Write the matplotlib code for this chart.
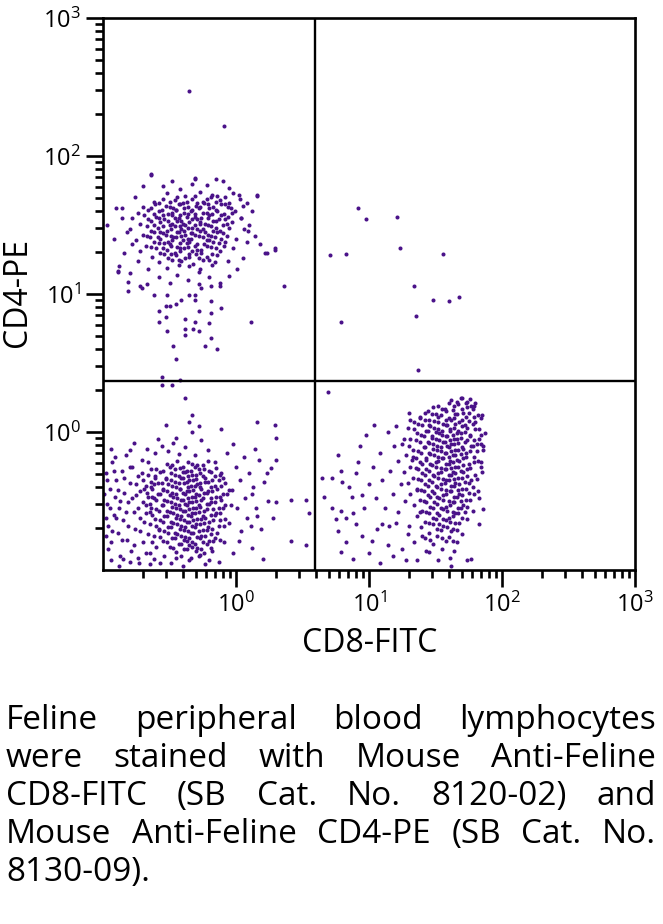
import numpy as np
import matplotlib
matplotlib.use("Agg")
import matplotlib.pyplot as plt
from matplotlib.ticker import FixedLocator, LogLocator, NullFormatter

plt.rcParams['font.family'] = ['Open Sans', 'DejaVu Sans']
plt.rcParams['mathtext.default'] = 'regular'

# quadrant gates (CD8-FITC, CD4-PE)
gate_x = 10 ** 0.594
gate_y = 10 ** 0.37

# events, as (log10 CD8-FITC, log10 CD4-PE)
# CD4+ CD8- (upper left)
ul_events = [
    (-0.52, 1.73), (-0.38, 1.71), (-0.27, 1.74), (-0.18, 1.72), (-0.08, 1.70), (-0.02, 1.73),
    (-0.62, 1.67), (-0.55, 1.69), (-0.46, 1.68), (-0.40, 1.66), (-0.33, 1.69), (-0.25, 1.67),
    (-0.19, 1.70), (-0.12, 1.68), (-0.05, 1.66), (0.03, 1.69),
    (-0.70, 1.63), (-0.61, 1.65), (-0.53, 1.64), (-0.47, 1.62), (-0.42, 1.65), (-0.36, 1.63),
    (-0.30, 1.64), (-0.24, 1.66), (-0.17, 1.63), (-0.11, 1.65), (-0.04, 1.62), (0.05, 1.64),
    (-0.74, 1.59), (-0.66, 1.61), (-0.58, 1.60), (-0.51, 1.58), (-0.45, 1.61), (-0.39, 1.59),
    (-0.34, 1.60), (-0.28, 1.62), (-0.22, 1.59), (-0.15, 1.61), (-0.09, 1.58), (-0.01, 1.60),
    (-0.78, 1.55), (-0.69, 1.57), (-0.60, 1.56), (-0.54, 1.54), (-0.48, 1.57), (-0.43, 1.55),
    (-0.37, 1.56), (-0.31, 1.58), (-0.26, 1.55), (-0.20, 1.57), (-0.13, 1.54), (-0.06, 1.56), (0.04, 1.55),
    (-0.72, 1.51), (-0.64, 1.53), (-0.57, 1.52), (-0.50, 1.50), (-0.44, 1.53), (-0.40, 1.51),
    (-0.35, 1.52), (-0.29, 1.54), (-0.23, 1.51), (-0.17, 1.53), (-0.10, 1.50), (-0.03, 1.52),
    (-0.80, 1.47), (-0.67, 1.49), (-0.59, 1.48), (-0.52, 1.46), (-0.46, 1.49), (-0.41, 1.47),
    (-0.36, 1.48), (-0.31, 1.50), (-0.25, 1.47), (-0.19, 1.49), (-0.12, 1.46), (-0.05, 1.48), (0.06, 1.47),
    (-0.70, 1.43), (-0.62, 1.45), (-0.55, 1.44), (-0.49, 1.42), (-0.43, 1.45), (-0.38, 1.43),
    (-0.33, 1.44), (-0.27, 1.46), (-0.21, 1.43), (-0.14, 1.45), (-0.07, 1.42),
    (-0.75, 1.39), (-0.65, 1.41), (-0.57, 1.40), (-0.51, 1.38), (-0.45, 1.41), (-0.40, 1.39),
    (-0.34, 1.40), (-0.28, 1.42), (-0.22, 1.39), (-0.16, 1.41), (-0.08, 1.38), (0.00, 1.40),
    (-0.68, 1.35), (-0.58, 1.37), (-0.50, 1.36), (-0.44, 1.34), (-0.37, 1.37), (-0.31, 1.35),
    (-0.24, 1.36), (-0.17, 1.38), (-0.09, 1.35),
    (-0.72, 1.31), (-0.60, 1.33), (-0.52, 1.32), (-0.46, 1.30), (-0.39, 1.33), (-0.33, 1.31),
    (-0.26, 1.32), (-0.19, 1.34), (-0.12, 1.31), (-0.02, 1.33),
    (-0.63, 1.27), (-0.54, 1.29), (-0.45, 1.28), (-0.38, 1.26), (-0.30, 1.29), (-0.22, 1.27), (-0.14, 1.28),
    (-0.58, 1.23), (-0.48, 1.25), (-0.41, 1.24), (-0.32, 1.22), (-0.25, 1.25), (-0.16, 1.23), (-0.06, 1.24),
    (-0.52, 1.19), (-0.43, 1.21), (-0.35, 1.20), (-0.27, 1.18), (-0.18, 1.21),
    # core, second pass
    (-0.44, 1.70), (-0.31, 1.71), (-0.22, 1.69), (-0.14, 1.71),
    (-0.58, 1.66), (-0.50, 1.67), (-0.43, 1.65), (-0.37, 1.67), (-0.29, 1.66), (-0.21, 1.65), (-0.15, 1.67), (-0.08, 1.65),
    (-0.64, 1.62), (-0.56, 1.61), (-0.50, 1.63), (-0.45, 1.61), (-0.39, 1.62), (-0.33, 1.61), (-0.27, 1.63),
    (-0.20, 1.62), (-0.14, 1.60), (-0.06, 1.63),
    (-0.62, 1.58), (-0.55, 1.57), (-0.48, 1.59), (-0.42, 1.57), (-0.36, 1.58), (-0.31, 1.56), (-0.25, 1.59),
    (-0.18, 1.58), (-0.11, 1.57), (-0.03, 1.59),
    (-0.66, 1.54), (-0.58, 1.55), (-0.51, 1.53), (-0.46, 1.55), (-0.41, 1.53), (-0.33, 1.54), (-0.27, 1.52),
    (-0.21, 1.55), (-0.15, 1.53), (-0.08, 1.54),
    (-0.62, 1.50), (-0.55, 1.49), (-0.48, 1.51), (-0.42, 1.49), (-0.38, 1.50), (-0.33, 1.48), (-0.27, 1.51),
    (-0.21, 1.50), (-0.15, 1.48), (-0.07, 1.51),
    (-0.64, 1.46), (-0.57, 1.45), (-0.49, 1.47), (-0.44, 1.45), (-0.39, 1.46), (-0.34, 1.44), (-0.29, 1.47),
    (-0.23, 1.45), (-0.17, 1.46), (-0.10, 1.44),
    (-0.67, 1.42), (-0.59, 1.41), (-0.53, 1.43), (-0.47, 1.41), (-0.41, 1.42), (-0.36, 1.40), (-0.31, 1.43),
    (-0.25, 1.41), (-0.19, 1.42), (-0.11, 1.40),
    (-0.62, 1.38), (-0.54, 1.37), (-0.48, 1.39), (-0.42, 1.37), (-0.35, 1.38), (-0.29, 1.36), (-0.20, 1.39), (-0.13, 1.37),
    (-0.64, 1.34), (-0.55, 1.33), (-0.49, 1.35), (-0.42, 1.33), (-0.36, 1.34), (-0.29, 1.32), (-0.22, 1.35), (-0.15, 1.33),
    (-0.57, 1.30), (-0.49, 1.29), (-0.42, 1.31), (-0.35, 1.29), (-0.26, 1.30), (-0.18, 1.29),
    (-0.51, 1.26), (-0.43, 1.25), (-0.35, 1.27), (-0.28, 1.26), (-0.20, 1.25),
    # halo
    (-0.90, 1.62), (-0.86, 1.55), (-0.84, 1.30), (-0.88, 1.20), (-0.92, 1.40), (-0.80, 1.15),
    (-0.76, 1.70), (-0.70, 1.78), (-0.64, 1.86), (-0.55, 1.78), (-0.48, 1.82), (-0.42, 1.76),
    (-0.33, 1.80), (-0.31, 1.83), (-0.22, 1.79), (-0.15, 1.83), (-0.10, 1.82), (-0.05, 1.77),
    (0.02, 1.72), (0.08, 1.66), (0.12, 1.60), (0.16, 1.71), (0.10, 1.50), (0.14, 1.42),
    (0.18, 1.36), (0.22, 1.30), (0.29, 1.32), (0.08, 1.38), (0.05, 1.26), (0.01, 1.18),
    (-0.05, 1.13), (-0.12, 1.08), (-0.20, 1.12), (-0.28, 1.16), (-0.36, 1.10), (-0.44, 1.14),
    (-0.50, 1.08), (-0.58, 1.12), (-0.66, 1.18), (-0.74, 1.24), (-0.82, 1.45), (-0.78, 1.36),
    (-0.72, 1.06), (0.04, 1.55), (0.09, 1.46), (-0.89, 1.16), (-0.97, 1.50),
    # tail and outliers
    (-0.89, 1.17), (-0.81, 1.09), (-0.81, 1.02), (-0.71, 1.04), (-0.67, 1.07), (-0.62, 0.99),
    (-0.58, 0.88), (-0.58, 0.80), (-0.53, 0.83), (-0.53, 0.91), (-0.50, 0.91), (-0.52, 0.99),
    (-0.45, 0.93), (-0.41, 0.96), (-0.52, 0.73), (-0.47, 0.62), (-0.45, 0.53), (-0.56, 0.40),
    (-0.42, 0.38), (-0.38, 0.82), (-0.38, 0.75), (-0.32, 0.75), (-0.38, 0.70), (-0.31, 0.80),
    (-0.28, 0.88), (-0.28, 0.73), (-0.20, 0.79), (-0.19, 0.86), (-0.19, 0.68), (-0.23, 0.62),
    (-0.14, 0.60), (-0.11, 0.90), (-0.19, 0.95), (-0.35, 0.99), (-0.31, 0.99), (-0.31, 0.96),
    (0.11, 0.80), (0.36, 1.06), (-0.12, 1.06), (-0.19, 1.06), (-0.26, 1.04), (-0.28, 1.07),
    (-0.35, 2.47), (-0.09, 2.22), (-0.64, 1.87), (-0.31, 1.84), (0.29, 1.33), (0.23, 1.30),
    (0.16, 1.72), (-0.86, 1.62),
]

# double negative (lower left)
ll_events = [
    (-0.52, -0.23), (-0.44, -0.21), (-0.36, -0.22), (-0.29, -0.24), (-0.21, -0.21),
    (-0.60, -0.27), (-0.50, -0.25), (-0.42, -0.26), (-0.37, -0.28), (-0.31, -0.25), (-0.24, -0.27), (-0.15, -0.26),
    (-0.66, -0.31), (-0.57, -0.29), (-0.49, -0.30), (-0.43, -0.32), (-0.38, -0.29), (-0.33, -0.31),
    (-0.27, -0.30), (-0.20, -0.28), (-0.12, -0.31),
    (-0.70, -0.35), (-0.61, -0.33), (-0.53, -0.34), (-0.46, -0.36), (-0.40, -0.33), (-0.35, -0.35),
    (-0.30, -0.34), (-0.25, -0.32), (-0.18, -0.35), (-0.10, -0.33),
    (-0.68, -0.39), (-0.59, -0.37), (-0.51, -0.38), (-0.45, -0.40), (-0.39, -0.37), (-0.34, -0.39),
    (-0.29, -0.38), (-0.23, -0.36), (-0.16, -0.39), (-0.08, -0.37),
    (-0.72, -0.43), (-0.63, -0.41), (-0.55, -0.42), (-0.48, -0.44), (-0.42, -0.41), (-0.37, -0.43),
    (-0.32, -0.42), (-0.27, -0.40), (-0.21, -0.43), (-0.14, -0.41), (-0.05, -0.42),
    (-0.66, -0.47), (-0.57, -0.45), (-0.50, -0.46), (-0.44, -0.48), (-0.38, -0.45), (-0.33, -0.47),
    (-0.28, -0.46), (-0.22, -0.44), (-0.15, -0.47), (-0.07, -0.45),
    (-0.70, -0.51), (-0.60, -0.49), (-0.52, -0.50), (-0.46, -0.52), (-0.40, -0.49), (-0.35, -0.51),
    (-0.30, -0.50), (-0.25, -0.48), (-0.19, -0.51), (-0.11, -0.49),
    (-0.64, -0.55), (-0.55, -0.53), (-0.48, -0.54), (-0.42, -0.56), (-0.37, -0.53), (-0.32, -0.55),
    (-0.27, -0.54), (-0.20, -0.52), (-0.13, -0.55), (-0.04, -0.53),
    (-0.68, -0.59), (-0.58, -0.57), (-0.50, -0.58), (-0.44, -0.60), (-0.38, -0.57), (-0.33, -0.59),
    (-0.28, -0.58), (-0.22, -0.56), (-0.15, -0.59),
    (-0.61, -0.63), (-0.52, -0.61), (-0.45, -0.62), (-0.39, -0.64), (-0.34, -0.61), (-0.29, -0.63),
    (-0.23, -0.62), (-0.16, -0.60), (-0.08, -0.63),
    (-0.65, -0.67), (-0.55, -0.65), (-0.47, -0.66), (-0.41, -0.68), (-0.35, -0.65), (-0.30, -0.67),
    (-0.24, -0.66), (-0.17, -0.64),
    (-0.58, -0.71), (-0.49, -0.69), (-0.42, -0.70), (-0.36, -0.72), (-0.31, -0.69), (-0.25, -0.71),
    (-0.18, -0.70), (-0.09, -0.68),
    (-0.62, -0.75), (-0.51, -0.73), (-0.44, -0.74), (-0.38, -0.76), (-0.32, -0.73), (-0.26, -0.75), (-0.19, -0.74),
    (-0.55, -0.79), (-0.46, -0.77), (-0.39, -0.78), (-0.33, -0.80), (-0.27, -0.77), (-0.20, -0.79), (-0.12, -0.78),
    (-0.50, -0.83), (-0.41, -0.81), (-0.35, -0.82), (-0.29, -0.84), (-0.22, -0.81),
    (-0.45, -0.87), (-0.37, -0.85), (-0.30, -0.86), (-0.24, -0.88),
    # core, second pass
    (-0.48, -0.24), (-0.40, -0.25), (-0.33, -0.23), (-0.25, -0.24),
    (-0.55, -0.28), (-0.46, -0.27), (-0.40, -0.29), (-0.34, -0.28), (-0.28, -0.27), (-0.19, -0.29),
    (-0.61, -0.32), (-0.53, -0.33), (-0.46, -0.31), (-0.41, -0.33), (-0.36, -0.32), (-0.30, -0.31), (-0.23, -0.33), (-0.16, -0.32),
    (-0.64, -0.36), (-0.56, -0.37), (-0.49, -0.35), (-0.43, -0.37), (-0.37, -0.36), (-0.32, -0.35),
    (-0.27, -0.37), (-0.21, -0.36), (-0.13, -0.35),
    (-0.64, -0.40), (-0.55, -0.41), (-0.48, -0.39), (-0.42, -0.41), (-0.36, -0.40), (-0.31, -0.39),
    (-0.26, -0.41), (-0.19, -0.40), (-0.11, -0.39),
    (-0.67, -0.44), (-0.59, -0.45), (-0.52, -0.43), (-0.45, -0.45), (-0.40, -0.44), (-0.35, -0.43),
    (-0.30, -0.45), (-0.24, -0.44), (-0.18, -0.43), (-0.10, -0.45),
    (-0.62, -0.48), (-0.54, -0.49), (-0.47, -0.47), (-0.41, -0.49), (-0.36, -0.48), (-0.31, -0.47),
    (-0.26, -0.49), (-0.19, -0.48), (-0.12, -0.47),
    (-0.65, -0.52), (-0.56, -0.53), (-0.49, -0.51), (-0.43, -0.53), (-0.38, -0.52), (-0.33, -0.51),
    (-0.28, -0.53), (-0.22, -0.52), (-0.16, -0.51), (-0.08, -0.53),
    (-0.60, -0.56), (-0.52, -0.57), (-0.45, -0.55), (-0.40, -0.57), (-0.35, -0.56), (-0.30, -0.55),
    (-0.24, -0.57), (-0.17, -0.56), (-0.10, -0.55),
    (-0.63, -0.60), (-0.54, -0.61), (-0.47, -0.59), (-0.41, -0.61), (-0.36, -0.60), (-0.31, -0.59),
    (-0.25, -0.61), (-0.19, -0.60), (-0.12, -0.59),
    (-0.57, -0.64), (-0.49, -0.65), (-0.42, -0.63), (-0.37, -0.65), (-0.32, -0.64), (-0.26, -0.63),
    (-0.20, -0.65), (-0.12, -0.64),
    (-0.60, -0.68), (-0.51, -0.69), (-0.44, -0.67), (-0.38, -0.69), (-0.33, -0.68), (-0.27, -0.67),
    (-0.21, -0.69), (-0.13, -0.68),
    (-0.54, -0.72), (-0.46, -0.73), (-0.39, -0.71), (-0.34, -0.73), (-0.28, -0.72), (-0.22, -0.71), (-0.14, -0.73),
    (-0.57, -0.76), (-0.48, -0.77), (-0.41, -0.75), (-0.35, -0.77), (-0.29, -0.76), (-0.23, -0.75), (-0.16, -0.77),
    (-0.52, -0.80), (-0.43, -0.81), (-0.37, -0.79), (-0.31, -0.81), (-0.25, -0.80), (-0.17, -0.79),
    (-0.47, -0.84), (-0.39, -0.85), (-0.33, -0.83), (-0.26, -0.85), (-0.19, -0.84),
    (-0.41, -0.90), (-0.34, -0.91), (-0.27, -0.89), (-0.20, -0.93),
    # spread
    (-0.98, -0.30), (-0.97, -0.52), (-0.96, -0.68), (-0.95, -0.41), (-0.94, -0.80), (-0.93, -0.22),
    (-0.92, -0.60), (-0.91, -0.47), (-0.90, -0.35), (-0.89, -0.73), (-0.88, -0.55), (-0.87, -0.90),
    (-0.86, -0.28), (-0.85, -0.64), (-0.84, -0.44), (-0.83, -0.17), (-0.82, -0.78), (-0.81, -0.51),
    (-0.80, -0.37), (-0.79, -0.86), (-0.78, -0.25), (-0.77, -0.58), (-0.76, -0.70), (-0.75, -0.46),
    (-0.74, -0.32), (-0.73, -0.95), (-0.72, -0.62), (-0.71, -0.20), (-0.70, -0.80), (-0.69, -0.41),
    (-0.68, -0.53), (-0.67, -0.12), (-0.66, -0.74), (-0.65, -0.88), (-0.64, -0.27), (-0.63, -0.47),
    (-0.62, -0.92), (-0.61, -0.15), (-0.60, -0.83), (-0.59, -0.05), (-0.57, -0.95), (-0.56, -0.10),
    (-0.54, -0.90), (-0.53, 0.05), (-0.51, -0.14), (-0.49, -0.95), (-0.47, -0.08), (-0.45, -0.91),
    (-0.43, -0.16), (-0.40, -0.97), (-0.38, -0.11), (-0.35, -0.93), (-0.33, 0.00), (-0.31, -0.17),
    (-0.28, -0.90), (-0.26, -0.06), (-0.23, -0.96), (-0.21, -0.13), (-0.18, -0.86), (-0.16, -0.22),
    (-0.13, -0.94), (-0.11, -0.30), (-0.09, -0.80), (-0.07, -0.15), (-0.05, -0.66), (-0.03, -0.42),
    (-0.02, -0.88), (0.00, -0.25), (0.01, -0.55), (0.03, -0.35), (0.04, -0.72), (0.06, -0.18),
    (0.07, -0.48), (0.08, -0.62), (0.10, -0.30), (0.12, -0.84), (0.13, -0.40), (0.15, -0.55),
    (0.17, -0.20), (0.19, -0.70), (0.21, -0.36), (0.24, -0.50), (0.26, -0.26), (0.28, -0.62),
    (0.14, -0.12), (0.20, -0.92), (-0.94, -0.12), (-0.88, -0.97), (-0.58, -0.70), (-0.77, -0.08),
    (-0.99, -0.45), (-0.98, -0.62), (-0.97, -0.35), (-0.96, -0.85), (-0.95, -0.55), (-0.93, -0.72),
    (-0.92, -0.28), (-0.90, -0.62), (-0.89, -0.42), (-0.87, -0.50), (-0.86, -0.78), (-0.84, -0.33),
    (-0.83, -0.58), (-0.81, -0.68), (-0.80, -0.25), (-0.78, -0.48), (-0.77, -0.82), (-0.75, -0.38),
    (-0.74, -0.55), (-0.72, -0.72), (-0.71, -0.30), (-0.69, -0.65), (-0.68, -0.88), (-0.66, -0.22),
    (-0.65, -0.58), (-0.63, -0.80), (-0.62, -0.38), (-0.98, -0.75), (-0.91, -0.18), (-0.85, -0.92),
    # outliers
    (-0.56, 0.34), (-0.48, 0.34), (-0.38, 0.25), (-0.33, 0.12), (-0.35, 0.07), (-0.28, 0.04),
    (-0.11, 0.02), (0.16, 0.07), (0.29, 0.05), (0.30, -0.04), (0.30, -0.20), (0.30, -0.51),
    (0.41, -0.49), (0.53, -0.49), (0.55, -0.59), (0.41, -0.79), (0.53, -0.82), (-0.45, -0.04),
    (-0.80, -0.13), (-0.02, -0.09), (0.23, -0.30), (0.16, -0.61), (0.12, -0.45), (0.11, -0.68),
    (0.02, -0.79), (-0.94, -0.93), (-0.80, -0.94), (-0.65, -0.96), (-0.74, -0.91),
]

# CD8+ CD4- (lower right)
lr_events = [
    (1.62, 0.23), (1.70, 0.25), (1.76, 0.24),
    (1.52, 0.19), (1.60, 0.21), (1.67, 0.20), (1.74, 0.18), (1.80, 0.21),
    (1.44, 0.15), (1.55, 0.17), (1.63, 0.16), (1.71, 0.14), (1.78, 0.17),
    (1.38, 0.11), (1.47, 0.13), (1.54, 0.12), (1.60, 0.10), (1.66, 0.13), (1.73, 0.11), (1.82, 0.12),
    (1.34, 0.07), (1.42, 0.09), (1.49, 0.08), (1.56, 0.06), (1.62, 0.09), (1.68, 0.07), (1.75, 0.08), (1.84, 0.10),
    (1.29, 0.03), (1.40, 0.05), (1.46, 0.04), (1.52, 0.02), (1.58, 0.05), (1.64, 0.03), (1.70, 0.04), (1.78, 0.06),
    (1.36, -0.01), (1.44, 0.01), (1.50, 0.00), (1.55, -0.02), (1.61, 0.01), (1.66, -0.01), (1.72, 0.00),
    (1.80, 0.02), (1.87, -0.01),
    (1.31, -0.05), (1.41, -0.03), (1.47, -0.04), (1.53, -0.06), (1.59, -0.03), (1.64, -0.05), (1.69, -0.04),
    (1.76, -0.02), (1.83, -0.05),
    (1.25, -0.09), (1.38, -0.07), (1.45, -0.08), (1.51, -0.10), (1.57, -0.07), (1.62, -0.09), (1.67, -0.08),
    (1.74, -0.06), (1.81, -0.09),
    (1.33, -0.13), (1.42, -0.11), (1.48, -0.12), (1.54, -0.14), (1.60, -0.11), (1.65, -0.13), (1.71, -0.12),
    (1.78, -0.10), (1.86, -0.13),
    (1.28, -0.17), (1.39, -0.15), (1.46, -0.16), (1.52, -0.18), (1.58, -0.15), (1.63, -0.17), (1.69, -0.16), (1.76, -0.14),
    (1.22, -0.21), (1.35, -0.19), (1.43, -0.20), (1.50, -0.22), (1.56, -0.19), (1.61, -0.21), (1.66, -0.20),
    (1.73, -0.18), (1.82, -0.21),
    (1.31, -0.25), (1.40, -0.23), (1.47, -0.24), (1.54, -0.26), (1.60, -0.23), (1.65, -0.25), (1.71, -0.24), (1.79, -0.22),
    (1.26, -0.29), (1.37, -0.27), (1.45, -0.28), (1.52, -0.30), (1.58, -0.27), (1.63, -0.29), (1.69, -0.28),
    (1.76, -0.26), (1.85, -0.29),
    (1.33, -0.33), (1.42, -0.31), (1.49, -0.32), (1.56, -0.34), (1.62, -0.31), (1.67, -0.33), (1.74, -0.32),
    (1.29, -0.37), (1.39, -0.35), (1.47, -0.36), (1.54, -0.38), (1.60, -0.35), (1.65, -0.37), (1.72, -0.36), (1.81, -0.34),
    (1.36, -0.41), (1.44, -0.39), (1.51, -0.40), (1.58, -0.42), (1.64, -0.39), (1.70, -0.41), (1.78, -0.40),
    (1.31, -0.45), (1.41, -0.43), (1.49, -0.44), (1.56, -0.46), (1.62, -0.43), (1.68, -0.45), (1.75, -0.44),
    (1.38, -0.49), (1.46, -0.47), (1.53, -0.48), (1.60, -0.50), (1.66, -0.47), (1.73, -0.49), (1.83, -0.48),
    (1.34, -0.53), (1.43, -0.51), (1.51, -0.52), (1.58, -0.54), (1.64, -0.51), (1.71, -0.53),
    (1.40, -0.57), (1.48, -0.55), (1.56, -0.56), (1.63, -0.58), (1.69, -0.55), (1.78, -0.57),
    (1.36, -0.61), (1.45, -0.59), (1.53, -0.60), (1.60, -0.62), (1.67, -0.59),
    (1.42, -0.65), (1.50, -0.63), (1.58, -0.64), (1.65, -0.66), (1.74, -0.63),
    (1.39, -0.69), (1.48, -0.67), (1.56, -0.68), (1.63, -0.70),
    (1.45, -0.73), (1.54, -0.71), (1.62, -0.72), (1.70, -0.74),
    (1.42, -0.77), (1.51, -0.75), (1.60, -0.76),
    (1.48, -0.81), (1.58, -0.79), (1.66, -0.80),
    (1.45, -0.87), (1.55, -0.85), (1.64, -0.86),
    (1.52, -0.93), (1.61, -0.91),
    # core, second pass
    (1.66, 0.22), (1.73, 0.21),
    (1.48, 0.18), (1.57, 0.17), (1.64, 0.19), (1.70, 0.17), (1.77, 0.19),
    (1.42, 0.14), (1.50, 0.13), (1.58, 0.15), (1.65, 0.13), (1.75, 0.14),
    (1.38, 0.10), (1.45, 0.09), (1.52, 0.11), (1.58, 0.09), (1.64, 0.10), (1.70, 0.09), (1.79, 0.11),
    (1.37, 0.06), (1.45, 0.05), (1.52, 0.07), (1.59, 0.05), (1.65, 0.06), (1.72, 0.05), (1.80, 0.07),
    (1.34, 0.02), (1.43, 0.01), (1.49, 0.03), (1.55, 0.01), (1.61, 0.02), (1.67, 0.01), (1.74, 0.03), (1.83, 0.02),
    (1.39, -0.02), (1.47, -0.03), (1.53, -0.01), (1.58, -0.03), (1.63, -0.02), (1.69, -0.01), (1.76, -0.03), (1.84, -0.02),
    (1.35, -0.06), (1.44, -0.07), (1.50, -0.05), (1.56, -0.07), (1.61, -0.06), (1.66, -0.05), (1.72, -0.07), (1.79, -0.06),
    (1.30, -0.10), (1.41, -0.11), (1.48, -0.09), (1.54, -0.11), (1.59, -0.10), (1.64, -0.09), (1.70, -0.11),
    (1.77, -0.10), (1.84, -0.09),
    (1.37, -0.14), (1.45, -0.15), (1.51, -0.13), (1.57, -0.15), (1.62, -0.14), (1.67, -0.13), (1.73, -0.15), (1.81, -0.14),
    (1.33, -0.18), (1.43, -0.19), (1.49, -0.17), (1.55, -0.19), (1.60, -0.18), (1.65, -0.17), (1.71, -0.19), (1.79, -0.18),
    (1.38, -0.22), (1.46, -0.23), (1.52, -0.21), (1.58, -0.23), (1.63, -0.22), (1.68, -0.21), (1.75, -0.23), (1.84, -0.22),
    (1.35, -0.26), (1.43, -0.27), (1.50, -0.25), (1.57, -0.27), (1.62, -0.26), (1.67, -0.25), (1.74, -0.27),
    (1.40, -0.30), (1.48, -0.31), (1.54, -0.29), (1.60, -0.31), (1.65, -0.30), (1.71, -0.29), (1.80, -0.31),
    (1.37, -0.34), (1.45, -0.35), (1.52, -0.33), (1.58, -0.35), (1.64, -0.34), (1.70, -0.33), (1.77, -0.35),
    (1.42, -0.38), (1.50, -0.39), (1.57, -0.37), (1.62, -0.39), (1.68, -0.38), (1.75, -0.37),
    (1.39, -0.42), (1.47, -0.43), (1.54, -0.41), (1.61, -0.43), (1.67, -0.42), (1.73, -0.41), (1.82, -0.43),
    (1.44, -0.46), (1.51, -0.47), (1.58, -0.45), (1.64, -0.47), (1.70, -0.46), (1.79, -0.45),
    (1.41, -0.50), (1.49, -0.51), (1.56, -0.49), (1.63, -0.51), (1.69, -0.50), (1.76, -0.49),
    (1.46, -0.54), (1.54, -0.55), (1.61, -0.53), (1.67, -0.55), (1.74, -0.54),
    (1.43, -0.58), (1.51, -0.59), (1.59, -0.57), (1.65, -0.59), (1.72, -0.58),
    (1.48, -0.62), (1.56, -0.63), (1.63, -0.61), (1.70, -0.62),
    (1.45, -0.66), (1.53, -0.67), (1.61, -0.65), (1.68, -0.66),
    (1.51, -0.70), (1.59, -0.69), (1.66, -0.71),
    (1.46, -0.78), (1.55, -0.77), (1.63, -0.79),
    # left tail and outliers
    (0.69, 0.29), (0.65, -0.33), (0.66, -0.47), (0.72, -0.33), (0.77, -0.17), (0.79, -0.28),
    (0.80, -0.36), (0.79, -0.57), (0.75, -0.63), (0.77, -0.72), (0.79, -0.87), (0.83, -0.80),
    (0.83, -0.62), (0.87, -0.47), (0.88, -0.59), (0.90, -0.67), (0.92, -0.22), (0.98, -0.02),
    (0.95, -0.46), (0.95, -0.75), (1.02, -0.79), (1.06, -0.70), (1.10, -0.67), (1.14, 0.00),
    (1.20, 0.04), (1.20, -0.66), (1.28, -0.93), (1.29, -0.74), (1.30, 0.14), (1.31, 0.09),
    (1.36, -0.93), (1.43, -0.86), (1.62, -0.97), (1.69, 0.25), (1.74, 0.22), (1.79, 0.19),
    (1.85, 0.12), (1.86, -0.10), (1.84, -0.25), (1.86, -0.56), (1.83, -0.67), (1.77, -0.92),
    (1.74, -0.93),
    (0.85, -0.40), (0.90, -0.30), (0.96, -0.55), (1.00, -0.38), (1.03, -0.25), (1.05, -0.48),
    (1.08, -0.15), (1.10, -0.35), (1.12, -0.55), (1.14, -0.82), (1.16, -0.28), (1.18, -0.45),
    (1.19, -0.10), (1.22, -0.58), (1.24, -0.38), (1.26, -0.05), (1.27, -0.50), (1.30, -0.68),
    (1.32, -0.20), (1.34, -0.80), (1.36, -0.42), (1.38, -0.58), (1.40, -0.75), (1.00, -0.88),
    (1.08, -0.95), (1.18, -0.90), (1.25, -0.85), (0.93, -0.10), (1.04, 0.05), (1.15, -0.68),
    (0.72, -0.55), (0.88, -0.92),
]

# double positive (upper right)
ur_events = [
    (0.92, 1.62), (0.98, 1.54), (1.21, 1.56), (0.71, 1.28), (0.83, 1.29), (1.23, 1.33),
    (1.56, 1.29), (1.34, 1.06), (1.48, 0.96), (1.60, 0.95), (1.68, 0.98), (0.79, 0.80),
    (1.35, 0.84), (1.37, 0.45),
]

x_ticks = [1, 10, 100, 1000]
y_ticks = [1, 10, 100, 1000]
tick_labels = [r'$10^{0}$', r'$10^{1}$', r'$10^{2}$', r'$10^{3}$']

caption_lines = [
    "Feline peripheral blood lymphocytes",
    "were stained with Mouse Anti-Feline",
    "CD8-FITC (SB Cat. No. 8120-02) and",
    "Mouse Anti-Feline CD4-PE (SB Cat. No.",
    "8130-09).",
]

events = np.array(ul_events + ll_events + lr_events + ur_events)
cd8 = 10 ** events[:, 0]
cd4 = 10 ** events[:, 1]

W, H = 663, 924
fig = plt.figure(figsize=(W / 100, H / 100), dpi=100)
ax = fig.add_axes([103 / W, 1 - 570 / H, 532 / W, 552 / H])

ax.set_xscale('log')
ax.set_yscale('log')
ax.scatter(cd8, cd4, s=8.5, color='#4a1289', linewidths=0, zorder=2)
ax.axvline(gate_x, color='black', lw=1.7, zorder=3)
ax.axhline(gate_y, color='black', lw=1.7, zorder=3)
ax.set_xlim(0.1, 1000)
ax.set_ylim(0.1, 1000)

for side in ax.spines.values():
    side.set_linewidth(1.9)

ax.xaxis.set_major_locator(FixedLocator(x_ticks))
ax.yaxis.set_major_locator(FixedLocator(y_ticks))
for axis in (ax.xaxis, ax.yaxis):
    axis.set_minor_locator(LogLocator(base=10, subs=np.arange(2, 10), numticks=12))
    axis.set_minor_formatter(NullFormatter())
ax.set_xticklabels(tick_labels)
ax.set_yticklabels(tick_labels)
ax.tick_params(which='major', length=12, width=1.9, labelsize=17, pad=4)
ax.tick_params(which='minor', length=6, width=1.9)

fig.text(370 / W, 1 - 643 / H, 'CD8-FITC', ha='center', va='center', fontsize=23)
fig.text(18 / W, 1 - 292 / H, 'CD4-PE', ha='center', va='center', fontsize=23, rotation=90)

# justified caption
fs = 24
left_px, right_px = 6, 656
baselines = [729, 767, 805, 843, 881]
renderer = fig.canvas.get_renderer()
for i, line in enumerate(caption_lines):
    y_in = (H - baselines[i]) / 100
    if i == len(caption_lines) - 1:
        fig.text(left_px / 100, y_in, line, fontsize=fs, va='baseline', ha='left',
                 transform=fig.dpi_scale_trans)
        continue
    words = line.split()
    texts = [fig.text(0, y_in, w, fontsize=fs, va='baseline', ha='left',
                      transform=fig.dpi_scale_trans) for w in words]
    widths = [t.get_window_extent(renderer).width for t in texts]
    gap = (right_px - left_px - sum(widths)) / (len(words) - 1)
    pos = left_px
    for t, w in zip(texts, widths):
        t.set_x(pos / 100)
        pos += w + gap

fig.savefig('out.png', dpi=100)
